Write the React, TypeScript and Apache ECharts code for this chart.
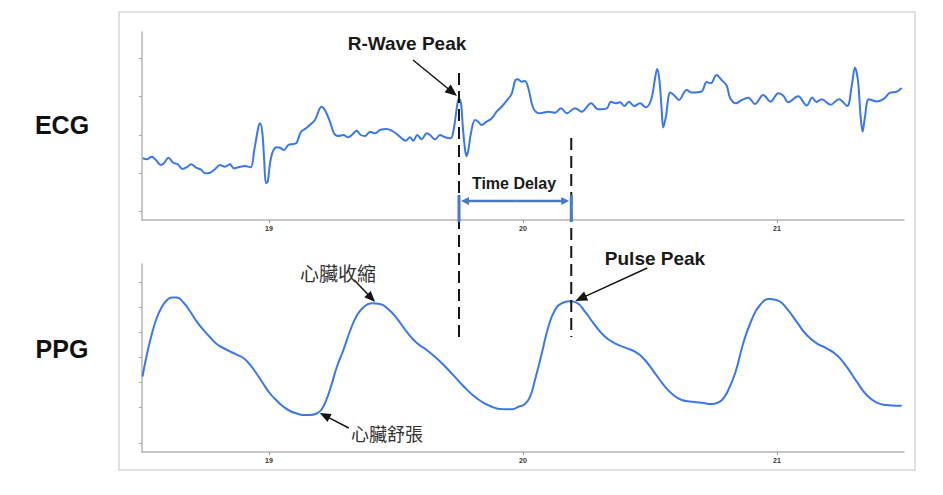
import React, { useEffect, useRef } from "react";
import * as echarts from "echarts";

// ECG trace (time in s, amplitude in arbitrary units)
const ecgTime = [18.503,18.519,18.538,18.555,18.574,18.588,18.604,18.623,18.641,18.659,18.676,18.693,18.713,18.731,18.748,18.768,18.787,18.807,18.827,18.846,18.862,18.879,18.906,18.928,18.942,18.958,18.965,18.974,18.981,18.988,18.995,19.004,19.015,19.030,19.043,19.059,19.076,19.096,19.109,19.126,19.146,19.168,19.181,19.207,19.220,19.240,19.256,19.273,19.293,19.312,19.326,19.345,19.361,19.378,19.398,19.417,19.437,19.463,19.483,19.503,19.522,19.539,19.555,19.568,19.584,19.601,19.621,19.634,19.654,19.673,19.693,19.715,19.728,19.739,19.748,19.756,19.763,19.772,19.778,19.785,19.795,19.811,19.824,19.837,19.857,19.877,19.896,19.916,19.936,19.956,19.969,19.979,19.995,20.008,20.021,20.041,20.067,20.100,20.126,20.150,20.172,20.205,20.231,20.268,20.296,20.330,20.346,20.365,20.382,20.399,20.417,20.438,20.461,20.483,20.504,20.520,20.528,20.537,20.546,20.552,20.562,20.580,20.596,20.614,20.644,20.664,20.703,20.723,20.739,20.762,20.782,20.802,20.816,20.839,20.861,20.887,20.913,20.946,20.975,21.005,21.025,21.044,21.083,21.117,21.139,21.155,21.176,21.211,21.244,21.276,21.294,21.307,21.319,21.328,21.337,21.346,21.362,21.393,21.419,21.445,21.471,21.491];
const ecgValue = [61.7,60.7,63.3,60,55,57.3,62.3,57.3,55.7,51,52.7,55.7,52.3,50.7,46.7,47.3,50.7,55,53.3,55.7,51.7,52.7,54,52.7,70,92.7,96.7,86.7,60,36.7,38.3,56.7,68.3,72.7,72.3,70,75,76,77.3,88.3,91.7,96.7,100,113.3,110,98.3,86.7,84,85,82.7,85,89.3,85,84,88.3,86.7,90,91,89.3,86,81.7,79.3,82.7,79.3,85,80.7,86.7,85,80.7,85,82.7,81.7,91.7,111.7,121.7,116.7,93.3,70,64,70,86.7,100,98.3,95,98.3,101.7,108.3,113.3,119.3,126.7,139.5,140.7,138.3,139,131.7,111.7,106.7,108.3,107.3,111.7,106.7,111.7,108.3,116.7,110.7,111.7,118.3,116.7,117.7,114,118.3,114,116.7,112.7,120,141.7,151,140,110,92.5,102.5,127.5,124.5,120,130,127.5,128.5,138,136.7,145,140,134.3,121.7,116.7,120,122.3,116,125,118.3,126.7,124.3,117.7,123.7,114.5,122.5,118,120.8,115.3,120.8,114,134,152.5,139,107.5,88.3,102.5,120.8,118.5,120.8,127.3,128.3,132];

// PPG trace
const ppgTime = [18.502,18.519,18.538,18.558,18.578,18.597,18.617,18.637,18.663,18.689,18.715,18.741,18.768,18.794,18.820,18.846,18.873,18.899,18.925,18.952,18.978,19.004,19.030,19.056,19.083,19.109,19.135,19.161,19.188,19.207,19.227,19.247,19.267,19.293,19.319,19.345,19.371,19.404,19.437,19.470,19.503,19.542,19.581,19.621,19.660,19.713,19.765,19.818,19.870,19.922,19.957,19.984,20.008,20.028,20.047,20.074,20.100,20.126,20.152,20.185,20.211,20.244,20.283,20.323,20.362,20.402,20.441,20.474,20.520,20.559,20.592,20.625,20.664,20.703,20.743,20.768,20.783,20.802,20.835,20.867,20.900,20.933,20.972,21.005,21.038,21.077,21.117,21.156,21.195,21.235,21.274,21.314,21.353,21.393,21.432,21.471,21.491];
const ppgValue = [75.5,97.3,117.3,134,145,151.5,154.5,154.5,149.5,140.7,130.7,122.3,114.7,108,104,100.7,97.3,94,87.3,78,68,58.5,51.5,45.5,41,38.5,37,37,38.5,42.5,53,68,85,102,121,136,144.5,148.7,148,142.7,133.7,120.3,109.3,102,93.7,80.3,66,53.7,46,42.7,42.7,45.5,48,55.3,72,98.7,125.3,142,148.7,150.7,149.3,140.3,127,115.3,108.7,104.3,100.3,93.7,78.7,65.3,57,52,50.3,49.3,48,49.5,52,58.7,78.7,108.7,132,147,153,151.3,143.7,130.3,117,108.7,103.7,97,85.3,70.3,57,49.3,47,46.3,46.3];

// Axis ticks / labels
const xTickLabels = [19, 20, 21];
const ecgTickValues = [8.3, 46.7, 85, 123.3, 161.7];
const ppgTickValues = [9, 44.5, 69.5, 94.7, 119.5, 145, 170];

// Annotation anchors (data coordinates)
const rWaveTime = 19.748;
const rWaveValue = 124;
const pulsePeakTime = 20.19;
const pulsePeakValue = 151;
const systoleTime = 19.41;
const systoleValue = 150;
const diastoleTime = 19.2;
const diastoleValue = 39;

const LINE_COLOR = "#3b78e6";
const LATIN = "'Liberation Sans', Arial, Helvetica, sans-serif";
const CJK = "'Noto Sans CJK TC', 'Noto Sans CJK SC', sans-serif";

function arrow(x1: number, y1: number, x2: number, y2: number, color: string, w: number, hl: number, hw: number) {
  const dx = x2 - x1, dy = y2 - y1;
  const L = Math.hypot(dx, dy);
  const ux = dx / L, uy = dy / L;
  const bx = x2 - ux * hl, by = y2 - uy * hl;
  const px = -uy, py = ux;
  return [
    { type: "line", silent: true, z: 20, shape: { x1, y1, x2: bx + ux * 1, y2: by + uy * 1 }, style: { stroke: color, lineWidth: w } },
    { type: "polygon", silent: true, z: 20, shape: { points: [[x2, y2], [bx + px * hw, by + py * hw], [bx - px * hw, by - py * hw]] }, style: { fill: color } },
  ];
}

export default function App() {
  const ref = useRef<HTMLDivElement>(null);
  useEffect(() => {
    if (!ref.current) return;
    const chart = echarts.init(ref.current, undefined, { renderer: "svg" });
    const axisColor = "#b4b4b4";
    const mkX = (i: number) => ({
      type: "value",
      gridIndex: i,
      min: 18.5,
      max: 21.5,
      interval: 0.5,
      axisLine: { show: true, lineStyle: { color: axisColor, width: 1.5 } },
      axisTick: { show: true, customValues: xTickLabels, length: 3, lineStyle: { color: "#999" } },
      axisLabel: {
        customValues: xTickLabels,
        fontSize: 7,
        fontWeight: "bold",
        color: "#333",
        margin: 5,
        fontFamily: LATIN,
        formatter: (v: number) => (Number.isInteger(v) ? String(v) : ""),
      },
      splitLine: { show: false },
    });
    const mkY = (i: number, ticks: number[]) => ({
      type: "value",
      gridIndex: i,
      min: 0,
      max: 188,
      axisLine: { show: true, lineStyle: { color: axisColor, width: 1.5 } },
      axisTick: { show: true, customValues: ticks, length: 3, lineStyle: { color: "#aaa" } },
      axisLabel: { show: false },
      splitLine: { show: false },
    });
    chart.setOption({
      animation: false,
      backgroundColor: "#ffffff",
      grid: [
        { left: 142, right: 39, top: 32, height: 188 },
        { left: 142, right: 39, top: 264, height: 188 },
      ],
      xAxis: [mkX(0), mkX(1)],
      yAxis: [mkY(0, ecgTickValues), mkY(1, ppgTickValues)],
      series: [
        {
          type: "line",
          name: "ECG",
          xAxisIndex: 0,
          yAxisIndex: 0,
          data: ecgTime.map((t, i) => [t, ecgValue[i]]),
          showSymbol: false,
          smooth: 0.35,
          lineStyle: { color: LINE_COLOR, width: 2 },
          z: 5,
        },
        {
          type: "line",
          name: "PPG",
          xAxisIndex: 1,
          yAxisIndex: 1,
          data: ppgTime.map((t, i) => [t, ppgValue[i]]),
          showSymbol: false,
          smooth: 0.5,
          lineStyle: { color: LINE_COLOR, width: 2 },
          z: 5,
        },
      ],
    });

    const toPx = (g: number, p: [number, number]) => chart.convertToPixel({ gridIndex: g }, p) as number[];
    const rX = toPx(0, [rWaveTime, 0])[0];
    const pX = toPx(0, [pulsePeakTime, 0])[0];
    const dashTopR = toPx(0, [rWaveTime, 147])[1];
    const dashTopP = toPx(0, [pulsePeakTime, 82])[1];
    const dashBottom = toPx(1, [rWaveTime, 115])[1];
    const delayY = toPx(0, [rWaveTime, 19])[1];
    const barTop = toPx(0, [rWaveTime, 25])[1];
    const barBottom = toPx(0, [rWaveTime, -2])[1];
    const rTip = toPx(0, [rWaveTime, rWaveValue]);
    const pTip = toPx(1, [pulsePeakTime, pulsePeakValue]);
    const sTip = toPx(1, [systoleTime, systoleValue]);
    const dTip = toPx(1, [diastoleTime, diastoleValue]);

    const blue = "#4a78c8";
    const dark = "#151515";
    const text = (t: string, x: number, y: number, font: string, fill: string) => ({
      type: "text",
      x,
      y,
      silent: true,
      z: 30,
      style: { text: t, font, fill, align: "center", verticalAlign: "middle", textAlign: "center", textVerticalAlign: "middle" },
    });

    chart.setOption({
      graphic: [
        { type: "rect", silent: true, z: 0, shape: { x: 119, y: 12, width: 796, height: 458 }, style: { fill: "none", stroke: "#d8d8d8", lineWidth: 1.5 } },
        { type: "line", silent: true, z: 15, shape: { x1: rX, y1: dashTopR, x2: rX, y2: dashBottom }, style: { stroke: dark, lineWidth: 2, lineDash: [12, 6] } },
        { type: "line", silent: true, z: 15, shape: { x1: pX, y1: dashTopP, x2: pX, y2: dashBottom }, style: { stroke: dark, lineWidth: 2, lineDash: [12, 6] } },
        { type: "line", silent: true, z: 18, shape: { x1: rX, y1: barTop, x2: rX, y2: barBottom }, style: { stroke: blue, lineWidth: 3 } },
        { type: "line", silent: true, z: 18, shape: { x1: pX, y1: barTop, x2: pX, y2: barBottom }, style: { stroke: blue, lineWidth: 3 } },
        ...arrow((rX + pX) / 2, delayY, rX + 2, delayY, blue, 2.5, 8, 4),
        ...arrow((rX + pX) / 2, delayY, pX - 2, delayY, blue, 2.5, 8, 4),
        ...arrow(rTip[0] - 46, rTip[1] - 36, rTip[0] - 2, rTip[1], dark, 1.5, 12, 5),
        ...arrow(pTip[0] + 76, pTip[1] - 33, pTip[0] + 4, pTip[1], dark, 1.5, 12, 5),
        ...arrow(sTip[0] - 19, sTip[1] - 22, sTip[0] + 2, sTip[1], dark, 1.5, 11, 4.5),
        ...arrow(dTip[0] + 29, dTip[1] + 15, dTip[0], dTip[1], dark, 1.5, 11, 4.5),
        text("ECG", 62, 125, `bold 25px ${LATIN}`, "#111"),
        text("PPG", 62, 349, `bold 25px ${LATIN}`, "#111"),
        text("R-Wave Peak", 407, 43, `bold 19px ${LATIN}`, "#1a1a1a"),
        text("Time Delay", 514, 183, `bold 16px ${LATIN}`, "#1a1a1a"),
        text("Pulse Peak", 655, 258, `bold 19px ${LATIN}`, "#1a1a1a"),
        text("心臟收縮", 338, 272, `19px ${CJK}`, "#333"),
        text("心臟舒張", 387, 433, `18px ${CJK}`, "#333"),
      ],
    });
    return () => chart.dispose();
  }, []);
  return <div ref={ref} style={{ position: "absolute", left: 0, top: 0, width: 943, height: 495 }} />;
}
